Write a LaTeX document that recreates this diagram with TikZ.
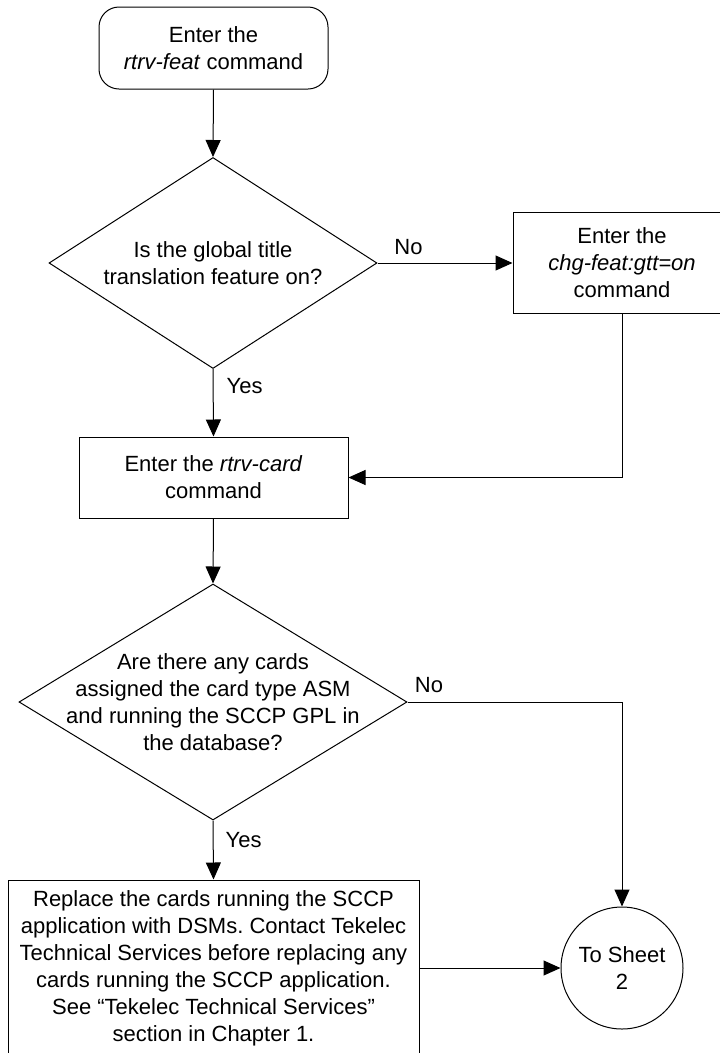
\documentclass[tikz,border=0pt]{standalone}
\usepackage{fontspec}
\setmainfont{Liberation Sans}
\usetikzlibrary{shapes.geometric,arrows.meta}
\frenchspacing
\begin{document}
\begin{tikzpicture}[x=1pt,y=-1pt,
  every node/.style={font=\fontsize{22}{27}\selectfont},
  ln/.style={draw=black, line width=1pt},
  arr/.style={ln, -{Triangle[length=17pt,width=15pt]}},
  box/.style={ln, rectangle, align=center, inner sep=0pt},
  dia/.style={ln, diamond, align=center, inner sep=-20pt},
  lbl/.style={inner sep=0pt}]
\useasboundingbox (0,0) rectangle (720,1053);

\node[box, rounded corners=20pt, minimum width=229pt, minimum height=82pt] (start) at (213.5,48) {Enter the\\\textit{rtrv-feat} command};
\node[dia, shape aspect=1.55, minimum width=328pt, minimum height=211pt] (d1) at (213,263) {Is the global title\\translation feature on?};
\node[box, minimum width=218pt, minimum height=101pt] (chg) at (622,262.5) {Enter the\\\textit{chg-feat:gtt=on}\\command};
\node[box, minimum width=269pt, minimum height=81pt] (rtrv) at (213.5,477.5) {Enter the \textit{rtrv-card}\\command};
\node[dia, shape aspect=1.644, minimum width=388pt, minimum height=236pt] (d2) at (213,702) {Are there any cards\\assigned the card type ASM\\and running the SCCP GPL in\\the database?};
\node[box, minimum width=411pt, minimum height=176pt] (repl) at (213.5,968) {Replace the cards running the SCCP\\application with DSMs. Contact Tekelec\\Technical Services before replacing any\\cards running the SCCP application.\\See “Tekelec Technical Services”\\section in Chapter 1.};
\node[ln, circle, align=center, inner sep=0pt, minimum size=122pt] (circ) at (622,968) {To Sheet\\2};

\draw[arr] (start.south) -- (d1.north);
\draw[arr] (d1.east) -- node[lbl, pos=0.23, above=8pt] (no1) {No} (chg.west |- d1.east);
\draw[arr] (d1.south) -- node[lbl, pos=0.25, right=13pt] (yes1) {Yes} (rtrv.north);
\draw[arr] (chg.south) |- (rtrv.east);
\draw[arr] (rtrv.south) -- (d2.north);
\draw[arr] (d2.east) -- node[lbl, pos=0.1, above=9pt] (no2) {No} (d2.east -| circ.north) -- (circ.north);
\draw[arr] (d2.south) -- node[lbl, pos=0.33, right=12pt] (yes2) {Yes} (repl.north);
\draw[arr] (repl.east) -- (circ.west);
\end{tikzpicture}
\end{document}
